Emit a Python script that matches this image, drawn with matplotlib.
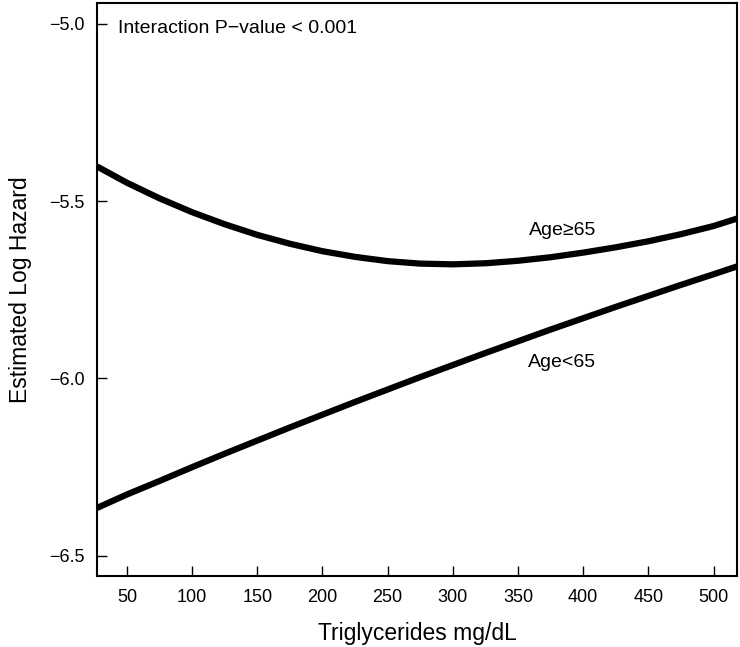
import matplotlib
matplotlib.use("Agg")
import matplotlib.pyplot as plt

plt.rcParams['font.family'] = ['Liberation Sans', 'DejaVu Sans']

# triglycerides grid (mg/dL)
tg = [27, 50, 75, 100, 125, 150, 175, 200, 225, 250, 275, 300,
      325, 350, 375, 400, 425, 450, 475, 500, 518]

# estimated log hazard
age_ge65 = [-5.402, -5.448, -5.492, -5.531, -5.565, -5.595, -5.620, -5.641,
            -5.657, -5.669, -5.676, -5.678, -5.675, -5.668, -5.658, -5.645,
            -5.630, -5.613, -5.593, -5.570, -5.549]
age_lt65 = [-6.365, -6.327, -6.289, -6.250, -6.212, -6.175, -6.138, -6.102,
            -6.066, -6.031, -5.996, -5.962, -5.928, -5.895, -5.862, -5.830,
            -5.798, -5.767, -5.736, -5.706, -5.684]

xticks = [50, 100, 150, 200, 250, 300, 350, 400, 450, 500]
yticks = [-6.5, -6.0, -5.5, -5.0]

fig = plt.figure(figsize=(7.4, 6.47), dpi=100)
ax = fig.add_axes([97 / 740, 1 - 576 / 647, 640 / 740, 573 / 647])

ax.plot(tg, age_ge65, color='black', linewidth=4.5, solid_capstyle='butt')
ax.plot(tg, age_lt65, color='black', linewidth=4.5, solid_capstyle='butt')

ax.set_xlim(27, 518)
ax.set_ylim(-6.557, -4.941)
ax.set_xticks(xticks)
ax.set_yticks(yticks)
ax.set_yticklabels([f"\u2212{abs(v):.1f}" for v in yticks])
ax.tick_params(direction='in', length=7.5, width=1.0, labelsize=13, pad=9)

for s in ax.spines.values():
    s.set_linewidth(1.5)

ax.set_xlabel('Triglycerides mg/dL', fontsize=16.5, labelpad=12)
ax.set_ylabel('Estimated Log Hazard', fontsize=16.5, labelpad=12)

ax.text(0.033, 0.955, 'Interaction P\u2212value < 0.001', transform=ax.transAxes,
        fontsize=14, ha='left', va='center')
ax.text(384, -5.584, 'Age\u226565', fontsize=14, ha='center', va='center')
ax.text(384, -5.956, 'Age<65', fontsize=14, ha='center', va='center')

fig.savefig('out.png', dpi=100)
